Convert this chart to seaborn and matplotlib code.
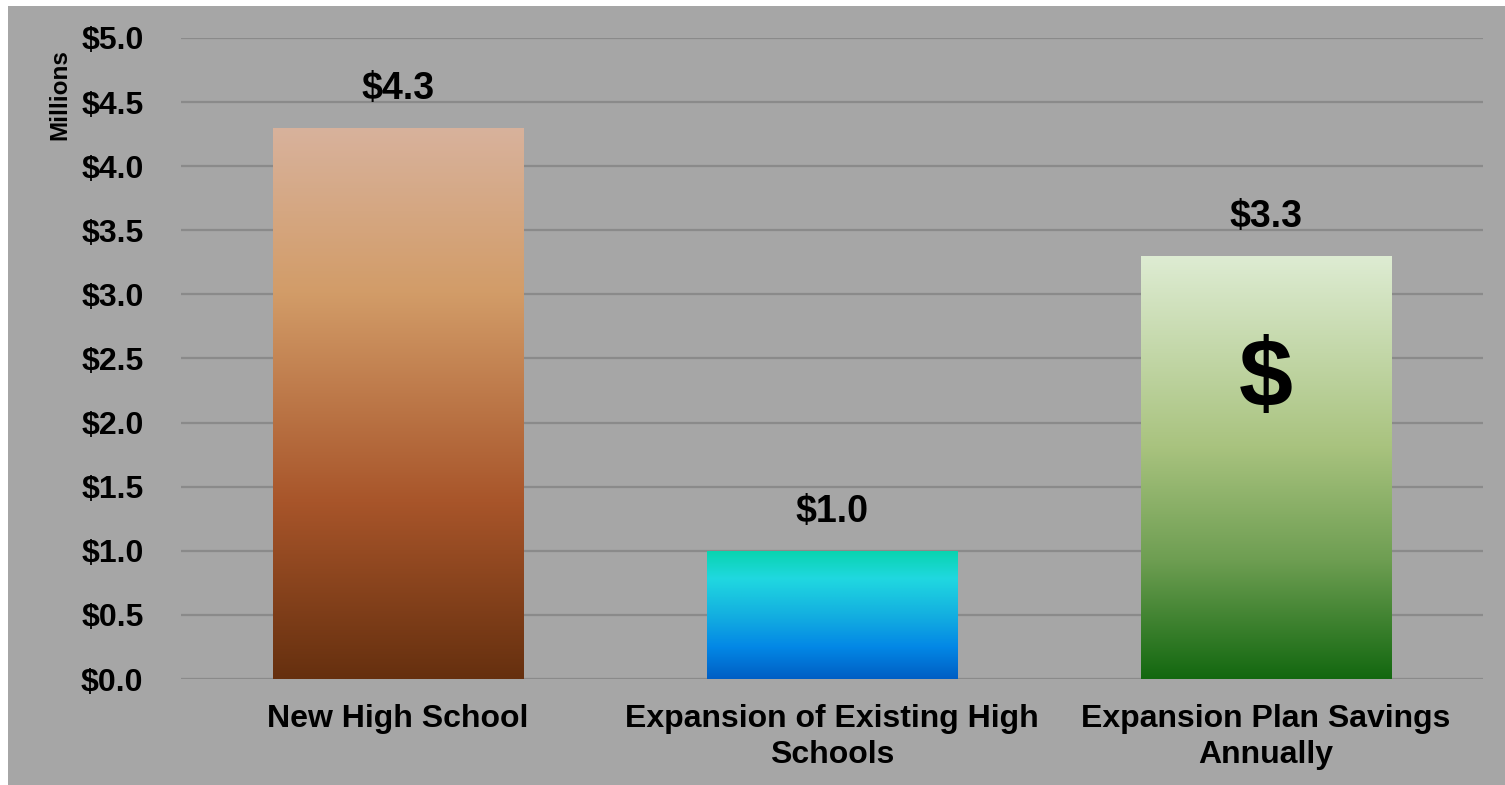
import numpy as np
import pandas as pd
import matplotlib
matplotlib.use("Agg")
import matplotlib.pyplot as plt
from matplotlib.colors import LinearSegmentedColormap
from matplotlib.patches import Rectangle
import seaborn as sns

categories = ["New High School", "Expansion of Existing High\nSchools", "Expansion Plan Savings\nAnnually"]
values = [4.3, 1.0, 3.3]
value_labels = ["$4.3", "$1.0", "$3.3"]
yticks = [0.0, 0.5, 1.0, 1.5, 2.0, 2.5, 3.0, 3.5, 4.0, 4.5, 5.0]

# gradient stops for each bar, top -> bottom
gradients = [
    [(0.0, "#D8B29C"), (0.3, "#D29C68"), (0.68, "#A8552A"), (1.0, "#66300F")],
    [(0.0, "#08D4AE"), (0.22, "#20D8E0"), (0.5, "#14B0E0"), (0.75, "#0388E6"), (1.0, "#005EC4")],
    [(0.0, "#DEECD3"), (0.45, "#A9C37F"), (0.72, "#6E9E52"), (1.0, "#136810")],
]

bg = "#A6A6A6"
sns.set_theme(style="whitegrid")
plt.rcParams["font.family"] = ["Liberation Sans", "DejaVu Sans"]
plt.rcParams["font.weight"] = "bold"

df = pd.DataFrame({"category": categories, "value": values})

fig = plt.figure(figsize=(15.05, 7.85), dpi=100, facecolor="white")
fig.patches.append(Rectangle((8 / 1505, 0), 1, 1 - 6 / 785, transform=fig.transFigure,
                             facecolor=bg, edgecolor="none", zorder=-10))
ax = fig.add_axes([181 / 1505, 1 - 679 / 785, 1302 / 1505, 641 / 785])
ax.set_facecolor(bg)

sns.barplot(data=df, x="category", y="value", ax=ax, width=0.577, color="white",
            saturation=1, edgecolor="none", zorder=2)

for patch, stops in zip(ax.patches, gradients):
    cmap = LinearSegmentedColormap.from_list("g", stops)
    x0, w, h = patch.get_x(), patch.get_width(), patch.get_height()
    grad = np.linspace(0, 1, 256).reshape(-1, 1)
    im = ax.imshow(grad, cmap=cmap, aspect="auto", extent=(x0, x0 + w, 0, h),
                   origin="upper", zorder=3, interpolation="bilinear")
    im.set_clip_path(patch)

for patch, lab in zip(ax.patches, value_labels):
    ax.annotate(lab, (patch.get_x() + patch.get_width() / 2, patch.get_height()),
                xytext=(0, 28), textcoords="offset points", ha="center", va="center",
                fontsize=27, fontweight="bold", color="black", zorder=5)

# dollar sign inside savings bar
p = ax.patches[2]
ax.text(p.get_x() + p.get_width() / 2, p.get_height() * 0.705, "$", ha="center", va="center",
        fontsize=70, fontweight="bold", color="black", zorder=5)

ax.set_xlim(-0.5, 2.5)
ax.set_ylim(0, 5)
ax.set_yticks(yticks)
ax.set_yticklabels(["${:.1f}".format(t) for t in yticks])
ax.tick_params(axis="y", length=0, pad=27, labelsize=23, labelcolor="black")
ax.tick_params(axis="x", length=0, pad=18, labelsize=23, labelcolor="black")
for t in ax.get_xticklabels() + ax.get_yticklabels():
    t.set_fontweight("bold")
    t.set_linespacing(1.25)

ax.grid(axis="y", color="#8A8A8A", linewidth=1.6)
ax.grid(axis="x", visible=False)
ax.set_axisbelow(True)
for s in ax.spines.values():
    s.set_visible(False)

ax.set_xlabel("")
ax.set_ylabel("Millions", fontsize=17.5, fontweight="bold", color="black", va="center")
ax.yaxis.set_label_coords(-0.093, 0.911)

fig.savefig("out.png", dpi=100, facecolor=fig.get_facecolor())
